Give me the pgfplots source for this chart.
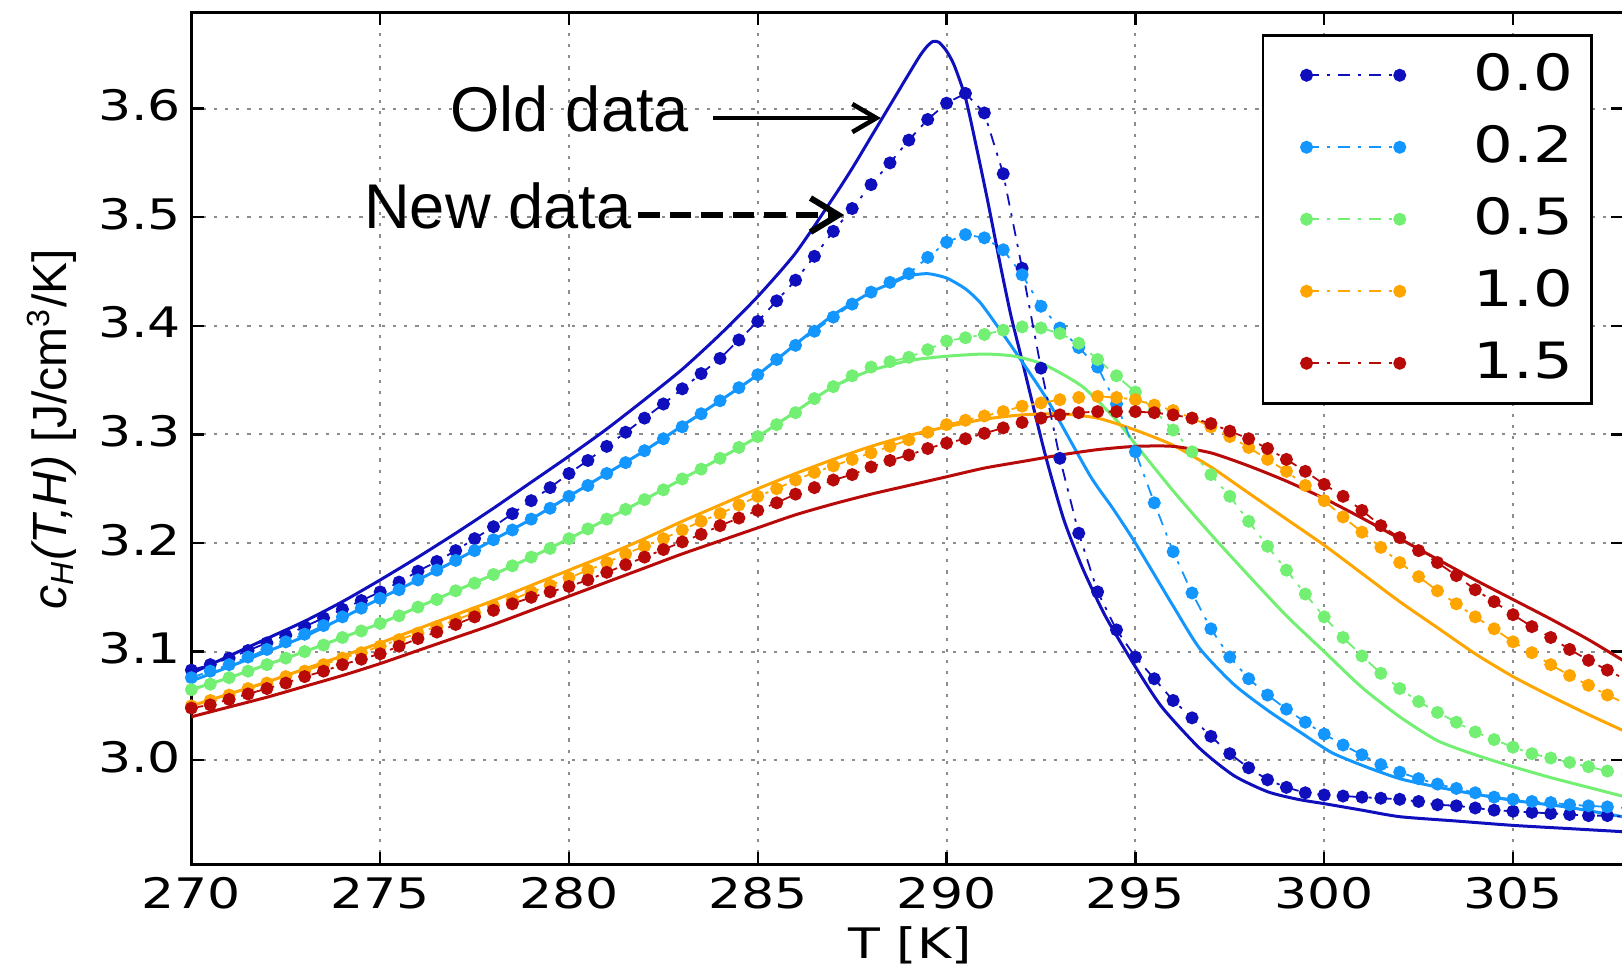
\documentclass[border=0pt]{standalone}
\usepackage{fontspec}
\setmainfont{DejaVu Sans}
\newfontfamily\lib{Liberation Sans}
\newfontfamily\tickfont[FakeStretch=1.24]{DejaVu Sans}
\newfontfamily\legfont[FakeStretch=1.25]{DejaVu Sans}
\usepackage{pgfplots}
\pgfplotsset{compat=1.18}
\usepackage{pgfplotstable}
\usetikzlibrary{arrows.meta}
\definecolor{c0}{RGB}{15,15,190}
\definecolor{c1}{RGB}{20,150,255}
\definecolor{c2}{RGB}{115,240,115}
\definecolor{c3}{RGB}{255,165,0}
\definecolor{c4}{RGB}{185,10,10}
\pgfplotstableread{
T c0 c1 c2 c3 c4
270 3.083 3.076 3.065 3.050 3.048
270.5 3.088 3.082 3.070 3.055 3.051
271 3.094 3.088 3.076 3.060 3.056
271.5 3.101 3.095 3.082 3.066 3.061
272 3.108 3.102 3.088 3.071 3.066
272.5 3.115 3.109 3.094 3.077 3.071
273 3.123 3.116 3.100 3.082 3.077
273.5 3.131 3.124 3.106 3.088 3.082
274 3.139 3.132 3.113 3.094 3.088
274.5 3.147 3.140 3.119 3.099 3.093
275 3.155 3.149 3.126 3.105 3.098
275.5 3.164 3.157 3.133 3.111 3.105
276 3.174 3.166 3.141 3.117 3.112
276.5 3.183 3.175 3.148 3.123 3.118
277 3.193 3.184 3.156 3.129 3.125
277.5 3.204 3.193 3.163 3.136 3.132
278 3.215 3.203 3.171 3.142 3.138
278.5 3.227 3.212 3.179 3.148 3.144
279 3.239 3.222 3.187 3.155 3.150
279.5 3.251 3.232 3.195 3.161 3.155
280 3.264 3.243 3.204 3.168 3.160
280.5 3.276 3.253 3.213 3.175 3.166
281 3.289 3.264 3.222 3.182 3.173
281.5 3.302 3.274 3.231 3.190 3.180
282 3.315 3.285 3.240 3.197 3.187
282.5 3.328 3.296 3.249 3.204 3.194
283 3.342 3.307 3.259 3.212 3.201
283.5 3.356 3.319 3.268 3.220 3.208
284 3.370 3.331 3.278 3.227 3.216
284.5 3.387 3.343 3.288 3.235 3.223
285 3.404 3.355 3.298 3.243 3.230
285.5 3.423 3.369 3.309 3.250 3.237
286 3.442 3.382 3.320 3.258 3.245
286.5 3.464 3.395 3.333 3.265 3.251
287 3.487 3.408 3.344 3.271 3.258
287.5 3.508 3.420 3.354 3.277 3.263
288 3.530 3.431 3.362 3.283 3.270
288.5 3.550 3.440 3.367 3.289 3.276
289 3.571 3.448 3.371 3.295 3.281
289.5 3.590 3.463 3.378 3.302 3.287
290 3.605 3.477 3.386 3.309 3.292
290.5 3.614 3.484 3.389 3.313 3.296
291 3.596 3.481 3.392 3.317 3.301
291.5 3.540 3.470 3.396 3.321 3.306
292 3.453 3.447 3.399 3.326 3.311
292.5 3.361 3.418 3.398 3.329 3.315
293 3.278 3.398 3.393 3.332 3.318
293.5 3.209 3.380 3.384 3.334 3.320
294 3.155 3.362 3.369 3.335 3.321
294.5 3.120 3.328 3.354 3.334 3.321
295 3.095 3.284 3.339 3.332 3.321
295.5 3.075 3.237 3.322 3.327 3.320
296 3.055 3.192 3.304 3.322 3.318
296.5 3.039 3.154 3.284 3.315 3.315
297 3.022 3.121 3.263 3.307 3.310
297.5 3.006 3.095 3.243 3.298 3.303
298 2.993 3.075 3.220 3.288 3.296
298.5 2.982 3.060 3.197 3.277 3.287
299 2.975 3.047 3.175 3.266 3.277
299.5 2.970 3.035 3.153 3.253 3.266
300 2.968 3.024 3.132 3.239 3.254
300.5 2.967 3.014 3.113 3.224 3.243
301 2.966 3.005 3.096 3.210 3.230
301.5 2.965 2.996 3.080 3.196 3.216
302 2.964 2.989 3.066 3.182 3.205
302.5 2.962 2.983 3.054 3.169 3.193
303 2.959 2.978 3.044 3.156 3.182
303.5 2.958 2.974 3.035 3.144 3.170
304 2.956 2.970 3.026 3.132 3.157
304.5 2.954 2.966 3.019 3.121 3.146
305 2.953 2.964 3.012 3.109 3.134
305.5 2.952 2.962 3.006 3.099 3.123
306 2.951 2.961 3.002 3.088 3.113
306.5 2.950 2.959 2.998 3.078 3.102
307 2.949 2.958 2.994 3.069 3.092
307.5 2.949 2.957 2.990 3.060 3.083
308 2.948 2.956 2.987 3.052 3.074
}\newdata
\pgfplotsset{
  newdata/.style={color=#1, line width=0.45pt, dash pattern=on 3pt off 2pt on 0.8pt off 2pt,
    mark=*, mark size=1.4pt, mark options={solid, fill=#1, draw=#1}},
  olddata/.style={color=#1, line width=0.75pt, smooth, tension=0.4, forget plot},
}
\begin{document}
\begin{tikzpicture}
\begin{axis}[
  scale only axis, width=358.15pt, height=213.1pt,
  xmin=270, xmax=307.94, ymin=2.9037, ymax=3.6886,
  xtick={270,275,280,285,290,295,300,305},
  ytick={3.0,3.1,3.2,3.3,3.4,3.5,3.6},
  tick align=inside, major tick length=3.2pt,
  xtick pos=both, ytick pos=both,
  tick style={black, line width=0.6pt},
  axis line style={black, line width=0.7pt},
  grid=major,
  grid style={black!45, line width=0.5pt, dash pattern=on 0.8pt off 2pt},
  /pgf/number format/assume math mode=true,
  ticklabel style={font=\tickfont\fontsize{10.5}{12}\selectfont},
  xticklabel style={anchor=base, yshift=-10.9pt, inner sep=0pt},
  yticklabel style={anchor=east, xshift=-2.4pt, yshift=0.8pt, inner sep=0pt, /pgf/number format/.cd, fixed, fixed zerofill, precision=1},
  xlabel={T [K]},
  xlabel style={at={(axis description cs:0.5016,0)}, anchor=base, yshift=-23.4pt, inner sep=0pt, font=\tickfont\fontsize{10.5}{12}\selectfont},
  ylabel={\lib\fontsize{12}{14}\selectfont\textit{c}\textsubscript{\textit{H}}\textit{(T,H)} [J/cm\textsuperscript{3}/K]},
  ylabel style={at={(axis description cs:-0.0975,0.511)}, anchor=center},
  legend style={at={(axis description cs:0.9784,0.9747)}, anchor=north east, draw=black, line width=0.65pt, fill=white,
    inner xsep=4.65pt, inner ysep=1pt, font=\legfont\fontsize{12.5}{14}\selectfont, row sep=0pt, nodes={inner sep=0pt}},
  legend cell align=left,
  legend image code/.code={\path[draw=none, fill=none] (0pt,-9pt) rectangle (48.05pt,9pt);
    \draw[#1] plot coordinates {(6.25pt,0pt) (29.55pt,0pt)};},
]
% old data (solid)
\addplot[olddata=c0] coordinates {(270,3.080)(271,3.096)(272,3.112)(273,3.128)(274,3.146)(275,3.166)(276,3.187)(277,3.209)(278,3.232)(279,3.256)(280,3.280)(281,3.305)(282,3.332)(283,3.360)(284,3.392)(285,3.427)(286,3.467)(287,3.518)(287.5,3.545)(288,3.574)(288.5,3.603)(289,3.632)(289.3,3.649)(289.5,3.658)(289.65,3.662)(289.8,3.661)(290,3.653)(290.2,3.640)(290.5,3.610)(290.8,3.563)(291.1,3.513)(291.4,3.460)(291.7,3.410)(292,3.368)(292.6,3.283)(293.1,3.222)(293.6,3.177)(294.2,3.133)(295,3.086)(295.7,3.049)(296.7,3.011)(297.6,2.986)(298.5,2.971)(299.3,2.964)(300,2.960)(301,2.954)(302,2.948)(303.5,2.944)(305,2.940)(306.5,2.937)(308,2.934)};
\addplot[olddata=c1] coordinates {(270,3.073)(271,3.086)(272,3.100)(273,3.114)(274,3.131)(275,3.149)(276,3.166)(277,3.184)(278,3.203)(279,3.222)(280,3.243)(281,3.264)(282,3.285)(283,3.308)(284,3.331)(285,3.355)(286,3.383)(287,3.410)(288,3.431)(288.6,3.440)(289,3.446)(289.5,3.448)(290,3.444)(290.5,3.434)(290.9,3.421)(291.4,3.397)(291.9,3.372)(292.7,3.330)(293.8,3.262)(294.4,3.232)(295,3.200)(296,3.142)(296.7,3.103)(297.6,3.070)(298.5,3.046)(299.4,3.025)(300.2,3.007)(301.1,2.994)(302,2.983)(302.9,2.976)(303.8,2.970)(305,2.963)(306.4,2.957)(307.9,2.948)};
\addplot[olddata=c2] coordinates {(270,3.065)(271,3.076)(272,3.088)(273,3.100)(274,3.113)(275,3.126)(276,3.141)(277,3.156)(278,3.171)(279,3.187)(280,3.204)(281,3.222)(282,3.240)(283,3.259)(284,3.278)(285,3.298)(286,3.321)(286.5,3.333)(287,3.344)(287.5,3.352)(288,3.359)(289,3.368)(290,3.372)(291,3.374)(291.8,3.372)(292.6,3.364)(293.6,3.344)(294.5,3.313)(295,3.291)(296,3.248)(297,3.208)(298,3.170)(299,3.133)(300,3.100)(301,3.067)(302,3.040)(303,3.018)(304,3.005)(305,2.994)(306,2.984)(307,2.975)(308,2.966)};
\addplot[olddata=c3] coordinates {(270,3.050)(271,3.061)(272,3.072)(273,3.084)(274,3.096)(275,3.108)(276,3.121)(277,3.134)(278,3.147)(279,3.161)(280,3.175)(281,3.189)(282,3.204)(283,3.220)(284,3.235)(285,3.250)(286,3.264)(287,3.277)(288,3.289)(289,3.299)(290,3.307)(291,3.314)(292,3.318)(293,3.319)(294,3.315)(295,3.304)(296,3.290)(297,3.270)(298,3.246)(299,3.222)(300,3.198)(301,3.172)(302,3.146)(303,3.122)(304,3.098)(305,3.077)(306,3.059)(307,3.042)(308,3.026)};
\addplot[olddata=c4] coordinates {(270,3.040)(271,3.049)(272,3.058)(273,3.068)(274,3.078)(275,3.089)(276,3.101)(277,3.113)(278,3.125)(279,3.138)(280,3.151)(281,3.164)(282,3.177)(283,3.190)(284,3.202)(285,3.214)(286,3.226)(287,3.236)(288,3.245)(289,3.253)(290,3.261)(291,3.269)(292,3.275)(293,3.281)(294,3.286)(295,3.289)(296,3.289)(297,3.283)(298,3.271)(299,3.257)(300,3.241)(301,3.223)(302,3.204)(303,3.185)(304,3.166)(305,3.148)(306,3.130)(307,3.111)(308,3.090)};
% new data (dots)
\addplot[newdata=c0] table[x=T, y=c0] {\newdata};
\addlegendentry{0.0}
\addplot[newdata=c1] table[x=T, y=c1] {\newdata};
\addlegendentry{0.2}
\addplot[newdata=c2] table[x=T, y=c2] {\newdata};
\addlegendentry{0.5}
\addplot[newdata=c3] table[x=T, y=c3] {\newdata};
\addlegendentry{1.0}
\addplot[newdata=c4] table[x=T, y=c4] {\newdata};
\addlegendentry{1.5}
% annotations
\node[font=\lib\fontsize{15.8}{18}\selectfont, anchor=base east, inner sep=0pt] at (axis cs:283.20,3.5785) {Old data};
\draw[line width=1.15pt, -{Straight Barb[length=6pt,width=7pt]}] (axis cs:283.81,3.5913) -- (axis cs:288.26,3.5913);
\node[font=\lib\fontsize{15.8}{18}\selectfont, anchor=base east, inner sep=0pt] at (axis cs:281.67,3.490) {New data};
\draw[line width=1.5pt, dash pattern=on 5.4pt off 2.5pt, -{Straight Barb[length=7pt,width=8.5pt]}] (axis cs:281.83,3.502) -- (axis cs:287.29,3.502);
\end{axis}
\pgfresetboundingbox
\path[use as bounding box] ([shift={(-47.85pt,-25.05pt)}]current axis.south west) rectangle ([shift={(-0.5pt,3.1pt)}]current axis.north east);
\end{tikzpicture}
\end{document}
